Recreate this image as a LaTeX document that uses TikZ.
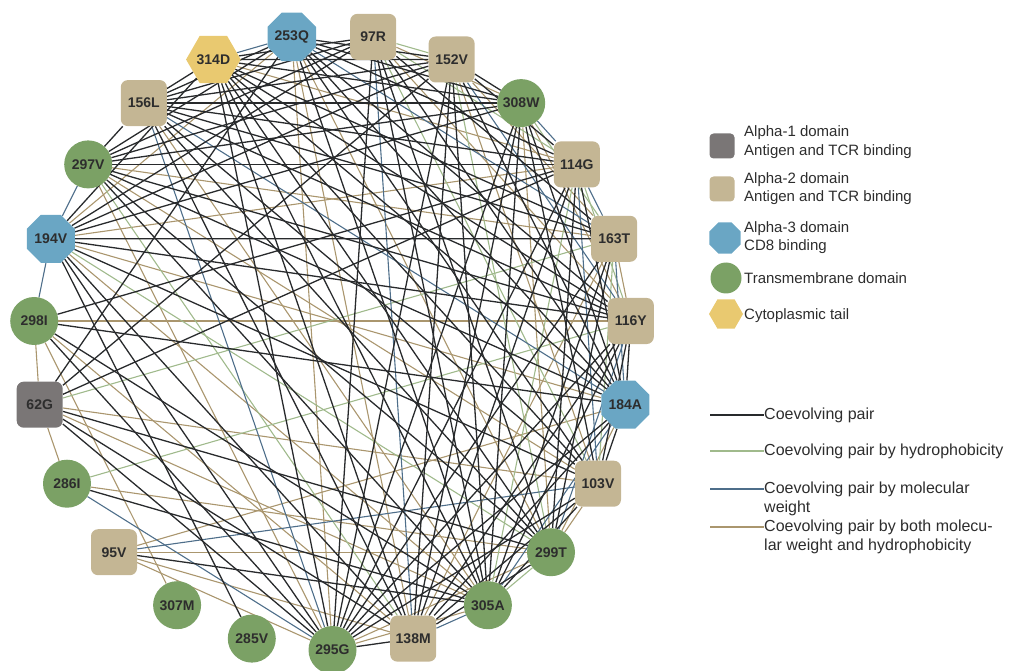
\documentclass[tikz,border=0pt]{standalone}
\usepackage{fontspec}
\setmainfont{Liberation Sans}
\usetikzlibrary{shapes.geometric,backgrounds}
\definecolor{tanfill}{RGB}{196,182,148}
\definecolor{greenfill}{RGB}{123,161,101}
\definecolor{bluefill}{RGB}{106,166,196}
\definecolor{grayfill}{RGB}{122,118,118}
\definecolor{yellowfill}{RGB}{233,201,112}
\definecolor{pairblack}{RGB}{40,42,44}
\definecolor{pairgreen}{RGB}{160,186,140}
\definecolor{pairblue}{RGB}{78,110,138}
\definecolor{pairtan}{RGB}{170,150,110}
\definecolor{labelgray}{RGB}{45,45,45}
\begin{document}
\begin{tikzpicture}[x=1pt,y=1pt]
\tikzstyle{every node}+=[inner sep=0pt, text=labelgray]
\tikzstyle{res}=[font=\fontsize{14}{14}\selectfont\bfseries]
\tikzstyle{alphaone}=[res, fill=grayfill, rounded corners=7pt, minimum size=46pt]
\tikzstyle{alphatwo}=[res, fill=tanfill, rounded corners=7pt, minimum size=46pt]
\tikzstyle{alphathree}=[res, fill=bluefill, regular polygon, regular polygon sides=8, minimum size=52pt]
\tikzstyle{tm}=[res, fill=greenfill, circle, minimum size=48pt]
\tikzstyle{tail}=[res, fill=yellowfill, regular polygon, regular polygon sides=6, minimum size=52pt]
\tikzstyle{pair}=[line width=1.3pt, pairblack]
\tikzstyle{hydro}=[line width=1.1pt, pairgreen]
\tikzstyle{weight}=[line width=1.1pt, pairblue]
\tikzstyle{both}=[line width=1.1pt, pairtan]
\tikzstyle{keytext}=[anchor=west, align=left, font=\fontsize{15}{18.5}\selectfont]
\tikzstyle{pairtext}=[anchor=west, align=left, font=\fontsize{16}{19.5}\selectfont]
\useasboundingbox (0,0) rectangle (1010,-671);
% residues round the ring
\node [tm] (r295G) at (332.5,-650) {295G};
\node [alphatwo] (r138M) at (413.2,-638.6) {138M};
\node [tm] (r305A) at (487.9,-605.2) {305A};
\node [tm] (r299T) at (551.0,-552.2) {299T};
\node [alphatwo] (r103V) at (598.0,-483.7) {103V};
\node [alphathree] (r184A) at (625.3,-404.7) {184A};
\node [alphatwo] (r116Y) at (630.8,-321.0) {116Y};
\node [alphatwo] (r163T) at (614.2,-238.8) {163T};
\node [alphatwo] (r114G) at (576.8,-164.4) {114G};
\node [tm] (r308W) at (521.2,-103.1) {308W};
\node [alphatwo] (r152V) at (451.6,-59.5) {152V};
\node [alphatwo] (r97R) at (373.2,-36.9) {97R};
\node [alphathree] (r253Q) at (291.8,-36.9) {253Q};
\node [tail] (r314D) at (213.4,-59.5) {314D};
\node [alphatwo] (r156L) at (143.8,-103.1) {156L};
\node [tm] (r297V) at (88.2,-164.4) {297V};
\node [alphathree] (r194V) at (50.8,-238.8) {194V};
\node [tm] (r298I) at (34.2,-321.0) {298I};
\node [alphaone] (r62G) at (39.7,-404.7) {62G};
\node [tm] (r286I) at (67.0,-483.7) {286I};
\node [alphatwo] (r95V) at (114.0,-552.2) {95V};
\node [tm] (r307M) at (177.1,-605.2) {307M};
\node [tm] (r285V) at (251.8,-638.6) {285V};
% coevolving pairs
\begin{pgfonlayer}{background}
\foreach \a/\b in {253Q/299T,253Q/138M,253Q/295G,253Q/194V,314D/114G,97R/308W,97R/116Y,152V/163T,152V/103V,156L/305A,308W/116Y,308W/299T,297V/163T,297V/103V,297V/295G,194V/114G,194V/184A,194V/305A,163T/116Y,163T/138M,116Y/298I,184A/299T,184A/95V,103V/299T,103V/62G,299T/295G,299T/95V,299T/286I,305A/295G,305A/62G,138M/95V,138M/298I,295G/95V,298I/62G,298I/307M,62G/286I}
  \draw [both] (r\a) -- (r\b);
\foreach \a/\b in {97R/152V,97R/114G,97R/103V,152V/299T,308W/163T,297V/138M,194V/299T,114G/116Y,114G/305A,163T/103V,163T/62G,116Y/286I,299T/305A}
  \draw [hydro] (r\a) -- (r\b);
\foreach \a/\b in {253Q/163T,314D/253Q,97R/138M,152V/116Y,156L/184A,156L/295G,308W/114G,297V/194V,194V/298I,114G/163T,114G/103V,163T/184A,116Y/299T,184A/305A,103V/95V,305A/138M,295G/286I}
  \draw [weight] (r\a) -- (r\b);
\foreach \a/\b in {253Q/152V,253Q/308W,253Q/114G,253Q/116Y,253Q/184A,253Q/103V,253Q/305A,253Q/156L,253Q/297V,253Q/62G,
  314D/97R,314D/152V,314D/308W,314D/163T,314D/116Y,314D/184A,314D/103V,314D/299T,314D/305A,314D/138M,314D/295G,314D/156L,314D/194V,
  97R/163T,97R/184A,97R/299T,97R/305A,97R/295G,97R/156L,97R/297V,97R/194V,
  152V/308W,152V/114G,152V/184A,152V/305A,152V/138M,152V/295G,152V/156L,152V/297V,152V/194V,152V/62G,
  156L/308W,156L/114G,156L/163T,156L/116Y,156L/103V,156L/299T,156L/138M,156L/297V,
  308W/184A,308W/103V,308W/305A,308W/138M,308W/295G,308W/297V,308W/194V,
  297V/114G,297V/116Y,297V/184A,297V/299T,297V/305A,
  194V/163T,194V/116Y,194V/103V,194V/138M,194V/295G,194V/285V,
  114G/184A,114G/299T,114G/138M,114G/295G,114G/62G,114G/298I,
  163T/299T,163T/305A,163T/295G,116Y/184A,116Y/103V,116Y/305A,116Y/138M,116Y/295G,
  184A/103V,184A/138M,184A/295G,184A/298I,103V/305A,103V/138M,103V/295G,
  299T/138M,299T/62G,305A/95V,305A/286I,305A/298I,138M/295G,138M/62G,295G/62G,295G/298I}
  \draw [pair] (r\a) -- (r\b);
\end{pgfonlayer}
% domain key
\node [alphaone, minimum size=25pt, rounded corners=4pt] (keyone) at (722,-146) {};
\node [keytext] (txtone) at (744,-142) {Alpha-1 domain\\Antigen and TCR binding};
\node [alphatwo, minimum size=25pt, rounded corners=4pt] (keytwo) at (722,-189) {};
\node [keytext] (txttwo) at (744,-188.5) {Alpha-2 domain\\Antigen and TCR binding};
\node [alphathree, minimum size=34pt] (keythree) at (725,-238) {};
\node [keytext] (txtthree) at (744,-237.5) {Alpha-3 domain\\CD8 binding};
\node [tm, minimum size=31pt] (keytm) at (726,-278) {};
\node [keytext] (txttm) at (744,-278) {Transmembrane domain};
\node [tail, minimum size=34pt] (keytail) at (726,-314) {};
\node [keytext] (txttail) at (744,-316) {Cytoplasmic tail};
% pair key
\node [pairtext] (txtpair) at (764,-415) {Coevolving pair};
\node [pairtext] (txthydro) at (764,-451) {Coevolving pair by hydrophobicity};
\node [pairtext] (txtweight) at (764,-499) {Coevolving pair by molecular\\weight};
\node [pairtext] (txtboth) at (764,-537) {Coevolving pair by both molecu-\\lar weight and hydrophobicity};
\coordinate (keypair) at (710,-415);
\coordinate (keyhydro) at (710,-451);
\coordinate (keyweight) at (710,-489);
\coordinate (keyboth) at (710,-527);
\draw [pair] (keypair) -- (txtpair);
\draw [hydro, line width=1.5pt] (keyhydro) -- (txthydro);
\draw [weight, line width=1.5pt] (keyweight) -- (keyweight -| txtweight.west);
\draw [both, line width=1.5pt] (keyboth) -- (keyboth -| txtboth.west);
\end{tikzpicture}
\end{document}
